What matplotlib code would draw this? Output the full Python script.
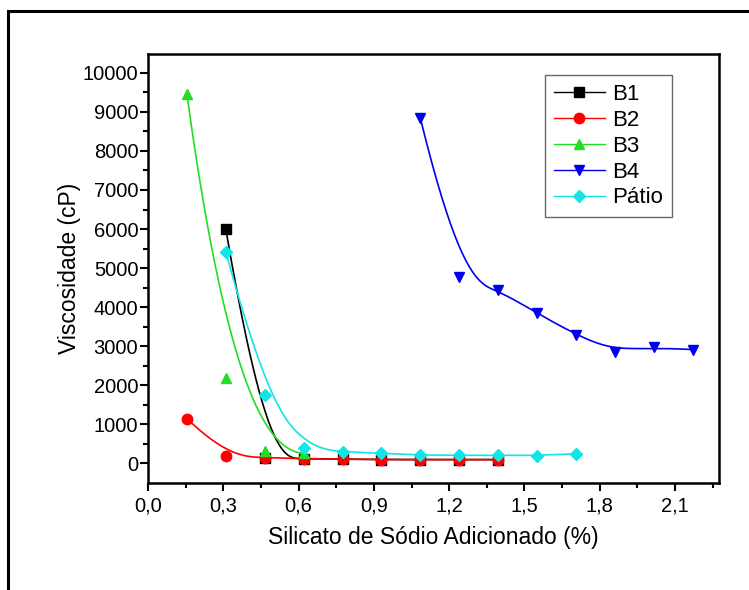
import numpy as np
import matplotlib
matplotlib.use('Agg')
import matplotlib.pyplot as plt
from matplotlib.patches import Rectangle

plt.rcParams['font.family'] = ['Liberation Sans', 'DejaVu Sans']

# data
x_b1 = [0.31, 0.465, 0.62, 0.775, 0.93, 1.085, 1.24, 1.395]
y_b1 = [6000, 150, 120, 110, 100, 100, 100, 100]

x_b2 = [0.155, 0.31, 0.465, 0.62, 0.775, 0.93, 1.085, 1.24, 1.395]
y_b2 = [1150, 190, 150, 120, 110, 100, 100, 95, 95]

x_b3 = [0.155, 0.31, 0.465, 0.62]
y_b3 = [9450, 2200, 320, 260]

x_b4 = [1.085, 1.24, 1.395, 1.55, 1.705, 1.86, 2.015, 2.17]
y_b4 = [8840, 4780, 4450, 3840, 3300, 2860, 2970, 2915]

x_pat = [0.31, 0.465, 0.62, 0.775, 0.93, 1.085, 1.24, 1.395, 1.55, 1.705]
y_pat = [5420, 1760, 400, 300, 260, 215, 210, 210, 200, 250]

labels = ['B1', 'B2', 'B3', 'B4', 'Pátio']


# Origin style B-spline: data points used as control points (clamped)
def bspline(xs, ys, n=300):
    P = np.column_stack([xs, ys]).astype(float)
    m = len(P)
    k = min(3, m - 1)
    knots = np.concatenate([np.zeros(k), np.linspace(0, 1, m - k + 1), np.ones(k)])
    t = np.linspace(0, 1, n)
    t[-1] = 1 - 1e-9
    # Cox-de Boor
    N = np.zeros((n, len(knots) - 1))
    for i in range(len(knots) - 1):
        N[:, i] = (t >= knots[i]) & (t < knots[i + 1])
    for d in range(1, k + 1):
        Nn = np.zeros((n, len(knots) - 1 - d))
        for i in range(len(knots) - 1 - d):
            a = knots[i + d] - knots[i]
            b = knots[i + d + 1] - knots[i + 1]
            term = 0
            if a > 0:
                term = term + (t - knots[i]) / a * N[:, i]
            if b > 0:
                term = term + (knots[i + d + 1] - t) / b * N[:, i + 1]
            Nn[:, i] = term
        N = Nn
    C = N @ P
    return C[:, 0], C[:, 1]


fig = plt.figure(figsize=(7.49, 5.90), dpi=100)
ax = fig.add_axes([148 / 749, 1 - 483 / 590, 571 / 749, 429 / 590])

series = [
    (x_b1, y_b1, '#000000', 's'),
    (x_b2, y_b2, '#ff0000', 'o'),
    (x_b3, y_b3, '#22dd22', '^'),
    (x_b4, y_b4, '#0000ee', 'v'),
    (x_pat, y_pat, '#11e5e5', 'D'),
]
order = [0, 2, 3, 4, 1]
for idx in order:
    xs, ys, c, mk = series[idx]
    sx, sy = bspline(xs, ys)
    ax.plot(sx, sy, color=c, lw=1.2, zorder=2 + idx * 0.1)
    ax.plot(xs, ys, ls='none', marker=mk, color=c, ms=7.5 if mk != 'D' else 6.5,
            mec=c, zorder=3 + idx * 0.1)

# legend proxies
handles = []
for xs, ys, c, mk in series:
    h, = ax.plot([], [], color=c, lw=1, marker=mk, ms=7.5 if mk != 'D' else 6.5)
    handles.append(h)
leg = ax.legend(handles, labels, loc='upper left', bbox_to_anchor=(0.695, 0.951),
                borderaxespad=0, fontsize=16, fancybox=False, handlelength=2.3,
                handletextpad=0.35, labelspacing=0.22, borderpad=0.4)
leg.get_frame().set_edgecolor('#444444')
leg.get_frame().set_linewidth(1.0)

ax.set_xlim(0, 2.275)
ax.set_ylim(-500, 10480)
ax.set_xticks(np.arange(0, 2.11, 0.3))
ax.set_xticklabels([f'{v:.1f}'.replace('.', ',') for v in np.arange(0, 2.11, 0.3)])
ax.set_xticks(np.arange(0, 2.28, 0.15), minor=True)
ax.set_yticks(np.arange(0, 10001, 1000))
ax.set_yticks(np.arange(0, 10001, 500), minor=True)
ax.tick_params(which='major', length=6, width=1.5, labelsize=14.5, direction='out')
ax.tick_params(which='minor', length=3.5, width=1.5, direction='out')
ax.tick_params(axis='y', which='major', pad=1)
for s in ax.spines.values():
    s.set_linewidth(1.8)

ax.set_xlabel('Silicato de Sódio Adicionado (%)', fontsize=16.5, labelpad=8)
ax.set_ylabel('Viscosidade (cP)', fontsize=16.5, labelpad=1)

# outer frame around the figure
fig.patches.append(Rectangle((8 / 749, -0.5), 2, 0.5 + 1 - 11 / 590, transform=fig.transFigure,
                             fill=False, lw=2.2, edgecolor='black'))

fig.savefig('out.png', dpi=100)
